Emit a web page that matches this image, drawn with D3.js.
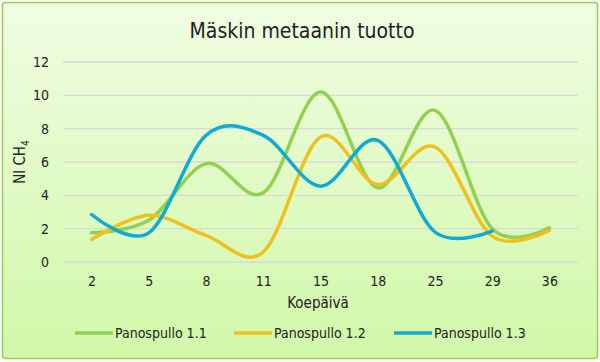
<!DOCTYPE html>
<html>
<head>
<meta charset="utf-8">
<script src="https://cdn.jsdelivr.net/npm/d3@7/dist/d3.min.js"></script>
<style>
  body { margin: 0; background: #fff; }
  text { font-family: "DejaVu Sans Condensed", "DejaVu Sans", sans-serif; fill: #222; }
</style>
</head>
<body>
<div id="chart"></div>
<script>
// Chart data.
var days = ["2", "5", "8", "11", "15", "18", "25", "29", "36"];
var panospullo11 = [1.75, 2.5, 5.9, 4.15, 10.2, 4.45, 9.1, 2.0, 2.05];
var panospullo12 = [1.35, 2.8, 1.6, 0.6, 7.5, 4.65, 6.9, 1.55, 1.9];
var panospullo13 = [2.85, 1.75, 7.6, 7.6, 4.55, 7.3, 1.8, 1.85, null];
var seriesNames = ["Panospullo 1.1", "Panospullo 1.2", "Panospullo 1.3"];
var seriesColors = ["#92d050", "#f2c01e", "#12aad2"];
var yTicks = [0, 2, 4, 6, 8, 10, 12];

var width = 600, height = 362;
var margin = {top: 62, left: 63, bottom: 100, right: 22};

var svg = d3.select("#chart").append("svg")
    .attr("width", width).attr("height", height);

// Background with soft green gradient.
var grad = svg.append("defs").append("linearGradient")
    .attr("id", "bg").attr("x1", 0).attr("y1", 0).attr("x2", 0).attr("y2", 1);
grad.append("stop").attr("offset", "0%").attr("stop-color", "#f0fde3");
grad.append("stop").attr("offset", "100%").attr("stop-color", "#d0f8a8");

svg.append("rect")
    .attr("x", 2.5).attr("y", 2.5)
    .attr("width", width - 5).attr("height", height - 6)
    .attr("rx", 3)
    .attr("fill", "url(#bg)")
    .attr("stroke", "#92d050")
    .attr("stroke-width", 1.5);

var x = d3.scalePoint()
    .domain(days)
    .range([margin.left, width - margin.right])
    .padding(0.5);

var y = d3.scaleLinear()
    .domain([0, 12])
    .range([height - margin.bottom, margin.top]);

// Gridlines.
svg.append("g").selectAll("line")
    .data(yTicks)
    .enter().append("line")
    .attr("x1", margin.left).attr("x2", width - margin.right)
    .attr("y1", function (d) { return y(d); })
    .attr("y2", function (d) { return y(d); })
    .attr("stroke", "#d9d9d9")
    .attr("stroke-width", 1.3);

// Axes (text only).
var yAxis = svg.append("g")
    .attr("transform", "translate(" + margin.left + ",0)")
    .call(d3.axisLeft(y).tickValues(yTicks).tickSize(0).tickPadding(14));
yAxis.select(".domain").remove();
yAxis.selectAll("text").style("font-size", "14px").attr("fill", "#222")
    .style("font-family", "'DejaVu Sans Condensed', sans-serif");

var xAxis = svg.append("g")
    .attr("transform", "translate(0," + (height - margin.bottom) + ")")
    .call(d3.axisBottom(x).tickSize(0).tickPadding(14));
xAxis.select(".domain").remove();
xAxis.selectAll("text").style("font-size", "14px").attr("fill", "#222")
    .style("font-family", "'DejaVu Sans Condensed', sans-serif");

// Lines.
var line = d3.line()
    .defined(function (d) { return d.v != null; })
    .x(function (d) { return x(d.day); })
    .y(function (d) { return y(d.v); })
    .curve(d3.curveCatmullRom.alpha(0));

var allSeries = [panospullo11, panospullo12, panospullo13];
svg.append("g").selectAll("path")
    .data(allSeries)
    .enter().append("path")
    .attr("d", function (s) {
        return line(s.map(function (v, i) { return {day: days[i], v: v}; }));
    })
    .attr("fill", "none")
    .attr("stroke", function (d, i) { return seriesColors[i]; })
    .attr("stroke-width", 3.5)
    .attr("stroke-linecap", "round");

// Title.
svg.append("text")
    .attr("x", 302).attr("y", 38)
    .attr("text-anchor", "middle")
    .style("font-size", "21px")
    .text("Mäskin metaanin tuotto");

// Axis titles.
var yTitle = svg.append("text")
    .attr("transform", "translate(25,162) rotate(-90)")
    .attr("text-anchor", "middle")
    .style("font-size", "15px");
yTitle.append("tspan").text("Nl CH");
yTitle.append("tspan").attr("dy", 4).style("font-size", "10px").text("4");

svg.append("text")
    .attr("x", 318).attr("y", 308)
    .attr("text-anchor", "middle")
    .style("font-size", "15px")
    .text("Koepäivä");

// Legend.
var legendX = [75, 234, 394];
var legend = svg.append("g").selectAll("g")
    .data(seriesNames)
    .enter().append("g")
    .attr("transform", function (d, i) { return "translate(" + legendX[i] + ",333)"; });
legend.append("line")
    .attr("x1", 0).attr("x2", 38).attr("y1", 0).attr("y2", 0)
    .attr("stroke", function (d, i) { return seriesColors[i]; })
    .attr("stroke-width", 3.5);
legend.append("text")
    .attr("x", 40).attr("y", 5)
    .style("font-size", "14px")
    .text(function (d) { return d; });
</script>
</body>
</html>
